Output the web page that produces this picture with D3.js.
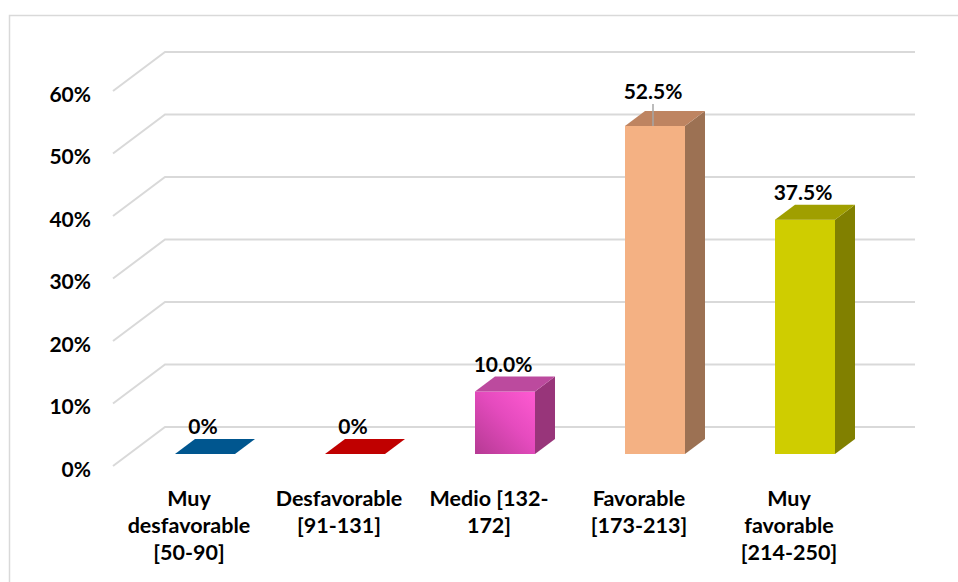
<!DOCTYPE html>
<html>
<head>
<meta charset="utf-8">
<script src="https://cdn.jsdelivr.net/npm/d3@7/dist/d3.min.js"></script>
<style>
  html, body { margin: 0; padding: 0; background: #fff; }
  svg text { font-family: Lato, "Open Sans", sans-serif; font-weight: 700; fill: #000; }
</style>
</head>
<body>
<svg id="chart" width="958" height="582"></svg>
<script>
// ---- data ----
const categories = [
  ["Muy", "desfavorable", "[50-90]"],
  ["Desfavorable", "[91-131]"],
  ["Medio [132-", "172]"],
  ["Favorable", "[173-213]"],
  ["Muy", "favorable", "[214-250]"]
];
const categoryKeys = ["Muy desfavorable", "Desfavorable", "Medio", "Favorable", "Muy favorable"];
const values = [0, 0, 0.10, 0.525, 0.375];
const yTicks = [0, 0.1, 0.2, 0.3, 0.4, 0.5, 0.6];
const frontColors = ["#00568F", "#C00000", "url(#magGrad)", "#F4B183", "#CFCD00"];
const topColors   = ["#00568F", "#C00000", "#BC4A9E", "#BE8461", "#A09F00"];
const sideColors  = ["#00568F", "#C00000", "#98357A", "#9C7153", "#818000"];

// ---- layout ----
const svg = d3.select("#chart");
const depthX = 52, depthY = -39;         // floor depth
const barOffX = 16, barOffY = -12;       // bar position inside depth
const barDX = 20, barDY = -15;           // bar depth
const barW = 60;

const x = d3.scaleBand().domain(categoryKeys).range([114, 864]);
const y = d3.scaleLinear().domain([0, 0.6]).range([466, 91]);

const defs = svg.append("defs");
const g1 = defs.append("linearGradient").attr("id", "magGrad")
  .attr("x1", "0%").attr("y1", "100%").attr("x2", "100%").attr("y2", "0%");
g1.append("stop").attr("offset", "0%").attr("stop-color", "#B53A93");
g1.append("stop").attr("offset", "55%").attr("stop-color", "#E54BBE");
g1.append("stop").attr("offset", "100%").attr("stop-color", "#FF5AD2");

// chart border
svg.append("rect").attr("x", 9.5).attr("y", 15.5).attr("width", 960).attr("height", 580)
  .attr("fill", "none").attr("stroke", "#D9D9D9").attr("stroke-width", 1.5);

// gridlines (back wall + side diagonal)
const gridG = svg.append("g");
yTicks.forEach(t => {
  const yf = y(t);
  gridG.append("path")
    .attr("d", `M${113},${yf} L${113 + depthX},${yf + depthY} L${915},${yf + depthY}`)
    .attr("fill", "none").attr("stroke", "#D9D9D9").attr("stroke-width", 2);
});

// y axis labels
svg.append("g").selectAll("text").data(yTicks).join("text")
  .attr("x", 91).attr("y", d => y(d) + 2)
  .attr("text-anchor", "end").attr("dominant-baseline", "central")
  .style("font-size", "21px")
  .text(d3.format(".0%"));

// bars
const barG = svg.append("g");
values.forEach((v, i) => {
  const cx = x(categoryKeys[i]) + x.bandwidth() / 2;
  const x0 = cx - barW / 2 + barOffX, x1 = x0 + barW;
  const yb = y(0) + barOffY;
  const yt = y(v) + barOffY;
  const g = barG.append("g");
  // side
  g.append("path").attr("d",
    `M${x1},${yb} L${x1 + barDX},${yb + barDY} L${x1 + barDX},${yt + barDY} L${x1},${yt} Z`)
    .attr("fill", sideColors[i]);
  // front
  if (yb - yt > 0.5) {
    g.append("rect").attr("x", x0).attr("y", yt).attr("width", barW).attr("height", yb - yt)
      .attr("fill", frontColors[i]);
  }
  // top
  g.append("path").attr("d",
    `M${x0},${yt} L${x1},${yt} L${x1 + barDX},${yt + barDY} L${x0 + barDX},${yt + barDY} Z`)
    .attr("fill", topColors[i]);

  // value label
  const lx = cx + 14;
  const lift = i === 3 ? 12 : 5;
  const ly = yt + barDY - lift;
  if (i === 3) {
    g.append("line").attr("x1", lx).attr("x2", lx)
      .attr("y1", ly + 5).attr("y2", yt)
      .attr("stroke", "#A6A6A6").attr("stroke-width", 1.5);
  }
  g.append("text").attr("x", lx).attr("y", ly)
    .attr("text-anchor", "middle").style("font-size", "21px")
    .text(v === 0 ? "0%" : d3.format(".1%")(v));
});

// category labels
const catG = svg.append("g");
categories.forEach((lines, i) => {
  const cx = x(categoryKeys[i]) + x.bandwidth() / 2;
  const t = catG.append("text").attr("x", cx).attr("y", 506)
    .attr("text-anchor", "middle").style("font-size", "21.5px");
  lines.forEach((ln, j) => {
    t.append("tspan").attr("x", cx).attr("y", 506 + j * 27).text(ln);
  });
});
</script>
</body>
</html>
